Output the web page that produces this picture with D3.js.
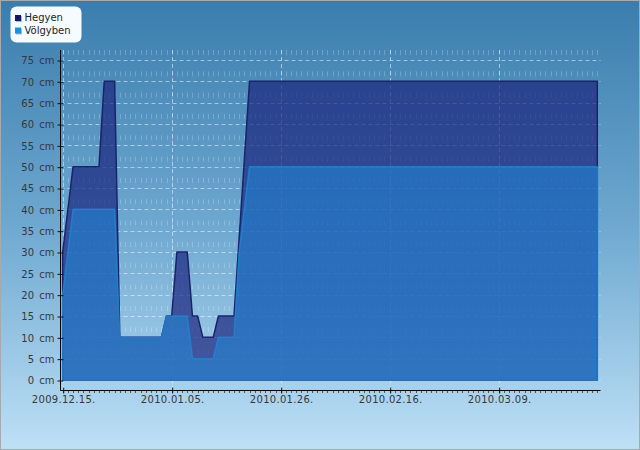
<!DOCTYPE html>
<html>
<head>
<meta charset="utf-8">
<script src="https://cdn.jsdelivr.net/npm/d3@7"></script>
<style>
  html, body { margin: 0; padding: 0; background: #fff; }
  svg { display: block; font-family: "DejaVu Sans", sans-serif; }
</style>
</head>
<body>
<div id="chart"></div>
<script>
// --------------------------------------------------
// 1. DATA (snow depth)
// --------------------------------------------------
const seriesNames = ["Hegyen", "Völgyben"];

const hegyenDates = ["2009.12.15.", "2009.12.17.", "2009.12.22.", "2009.12.23.", "2009.12.25.",
    "2009.12.26.", "2010.01.03.", "2010.01.04.", "2010.01.05.", "2010.01.06.", "2010.01.08.",
    "2010.01.09.", "2010.01.10.", "2010.01.11.", "2010.01.13.", "2010.01.14.", "2010.01.17.",
    "2010.01.20.", "2010.03.28."];
const hegyenValues = [30, 50, 50, 70, 70, 10, 10, 15, 15, 30, 30, 15, 15, 10, 10, 15, 15, 70, 70];

const volgybenDates = ["2009.12.15.", "2009.12.17.", "2009.12.25.", "2009.12.26.", "2010.01.03.",
    "2010.01.04.", "2010.01.08.", "2010.01.09.", "2010.01.13.", "2010.01.14.", "2010.01.17.",
    "2010.01.18.", "2010.01.20.", "2010.03.28."];
const volgybenValues = [20, 40, 40, 10, 10, 15, 15, 5, 5, 10, 10, 30, 50, 50];

const xTickLabels = ["2009.12.15.", "2010.01.05.", "2010.01.26.", "2010.02.16.", "2010.03.09."];
const yTickValues = [0, 5, 10, 15, 20, 25, 30, 35, 40, 45, 50, 55, 60, 65, 70, 75];

// --------------------------------------------------
// 2. CHART SETTINGS
// --------------------------------------------------
const width = 640;
const height = 450;
const plot = { left: 60.5, right: 600.5, top: 50, bottom: 390.5 };

const parse = d3.timeParse("%Y.%m.%d.");
const fmt = d3.timeFormat("%Y.%m.%d.");

const hegyen = hegyenDates.map((d, i) => ({ date: parse(d), value: hegyenValues[i] }));
const volgyben = volgybenDates.map((d, i) => ({ date: parse(d), value: volgybenValues[i] }));

const x = d3.scaleTime()
    .domain([parse("2009.12.15."), parse("2010.03.28.")])
    .range([62.7, 597.3]);

const y = d3.scaleLinear()
    .domain([0, 75])
    .range([380, 60]);

// --------------------------------------------------
// 3. SVG + BACKGROUND
// --------------------------------------------------
const svg = d3.create("svg")
    .attr("width", width)
    .attr("height", height);

const defs = svg.append("defs");
const bg = defs.append("linearGradient")
    .attr("id", "bg")
    .attr("x1", 0).attr("y1", 0)
    .attr("x2", 0).attr("y2", 1);
bg.append("stop").attr("offset", "0%").attr("stop-color", "#3a7dad");
bg.append("stop").attr("offset", "50%").attr("stop-color", "#6ea8d0");
bg.append("stop").attr("offset", "100%").attr("stop-color", "#bde0f6");

svg.append("rect")
    .attr("x", 0.5).attr("y", 0.5)
    .attr("width", width - 1).attr("height", height - 1)
    .attr("fill", "url(#bg)")
    .attr("stroke", "#a9a9a9");

// --------------------------------------------------
// 4. GRID
// --------------------------------------------------
const grid = svg.append("g");
const days = d3.timeDay.range(x.domain()[0], d3.timeDay.offset(x.domain()[1], 1));

// minor: one faint dashed line per day
grid.append("g")
    .selectAll("line")
    .data(days)
    .join("line")
    .attr("x1", d => Math.round(x(d)) + 0.5)
    .attr("x2", d => Math.round(x(d)) + 0.5)
    .attr("y1", plot.top)
    .attr("y2", plot.bottom)
    .attr("stroke", "#ffffff")
    .attr("stroke-opacity", 0.22)
    .attr("stroke-dasharray", "5,16.33");

// major horizontal
grid.append("g")
    .selectAll("line")
    .data(yTickValues)
    .join("line")
    .attr("x1", plot.left)
    .attr("x2", plot.right)
    .attr("y1", d => Math.round(y(d)) + 0.5)
    .attr("y2", d => Math.round(y(d)) + 0.5)
    .attr("stroke", "#ffffff")
    .attr("stroke-opacity", 0.5)
    .attr("stroke-dasharray", "4,3");

// major vertical
grid.append("g")
    .selectAll("line")
    .data(xTickLabels.map(parse))
    .join("line")
    .attr("x1", d => Math.round(x(d)) + 0.5)
    .attr("x2", d => Math.round(x(d)) + 0.5)
    .attr("y1", plot.top)
    .attr("y2", plot.bottom)
    .attr("stroke", "#ffffff")
    .attr("stroke-opacity", 0.5)
    .attr("stroke-dasharray", "4,3");

// --------------------------------------------------
// 5. AREAS
// --------------------------------------------------
const area = d3.area()
    .x(d => x(d.date))
    .y0(y(0))
    .y1(d => y(d.value));

svg.append("path")
    .datum(hegyen)
    .attr("d", area)
    .attr("fill", "#1a237e")
    .attr("fill-opacity", 0.7)
    .attr("stroke", "#1a2468")
    .attr("stroke-width", 1.5)
    .attr("stroke-linejoin", "round");

svg.append("path")
    .datum(volgyben)
    .attr("d", area)
    .attr("fill", "#1e90e0")
    .attr("fill-opacity", 0.5)
    .attr("stroke", "#1e86d6")
    .attr("stroke-opacity", 0.8)
    .attr("stroke-width", 1.5)
    .attr("stroke-linejoin", "round");

// --------------------------------------------------
// 6. AXES
// --------------------------------------------------
const yAxis = svg.append("g")
    .attr("transform", `translate(${plot.left},0.5)`)
    .call(d3.axisLeft(y)
        .tickValues(yTickValues)
        .tickFormat(d => d + " cm")
        .tickSize(3)
        .tickPadding(3));
yAxis.select(".domain").remove();
yAxis.selectAll(".tick line").attr("x2", 3).attr("x1", -3).attr("stroke", "#111");
yAxis.selectAll(".tick text")
    .attr("font-size", 10)
    .attr("font-family", "DejaVu Sans")
    .attr("word-spacing", 2)
    .attr("fill", "#383838");

// minor day ticks under the x axis
svg.append("g")
    .selectAll("line")
    .data(days)
    .join("line")
    .attr("x1", d => Math.round(x(d)) + 0.5)
    .attr("x2", d => Math.round(x(d)) + 0.5)
    .attr("y1", plot.bottom)
    .attr("y2", plot.bottom + 2.5)
    .attr("stroke", "#555");

const xAxis = svg.append("g")
    .attr("transform", `translate(0.5,${plot.bottom})`)
    .call(d3.axisBottom(x)
        .tickValues(xTickLabels.map(parse))
        .tickFormat(fmt)
        .tickSize(3)
        .tickPadding(2.5));
xAxis.select(".domain").remove();
xAxis.selectAll(".tick line").attr("y1", -3).attr("y2", 3).attr("stroke", "#111");
xAxis.selectAll(".tick text")
    .attr("font-size", 10)
    .attr("font-family", "DejaVu Sans")
    .attr("letter-spacing", 0.3)
    .attr("fill", "#383838");

// axis lines
svg.append("line")
    .attr("x1", plot.left).attr("x2", plot.left)
    .attr("y1", plot.top).attr("y2", plot.bottom)
    .attr("stroke", "#000");
svg.append("line")
    .attr("x1", plot.left).attr("x2", plot.right)
    .attr("y1", plot.bottom).attr("y2", plot.bottom)
    .attr("stroke", "#000");

// --------------------------------------------------
// 7. LEGEND
// --------------------------------------------------
const legendColours = ["#16166a", "#1e90e0"];
const legend = svg.append("g");
legend.append("rect")
    .attr("x", 10.5).attr("y", 6.5)
    .attr("width", 71).attr("height", 36)
    .attr("rx", 6)
    .attr("fill", "#f5fbff");

const items = legend.selectAll("g")
    .data(seriesNames)
    .join("g")
    .attr("transform", (d, i) => `translate(15,${15 + i * 12.5})`);
items.append("rect")
    .attr("x", 1).attr("y", 1)
    .attr("width", 6).attr("height", 6)
    .attr("fill", "#a8b8c8");
items.append("rect")
    .attr("width", 6).attr("height", 6)
    .attr("fill", (d, i) => legendColours[i]);
items.append("text")
    .attr("x", 9.5)
    .attr("y", 6)
    .attr("font-size", 10)
    .attr("fill", "#1e1e1e")
    .text(d => d);

document.querySelector("#chart").append(svg.node());
</script>
</body>
</html>
